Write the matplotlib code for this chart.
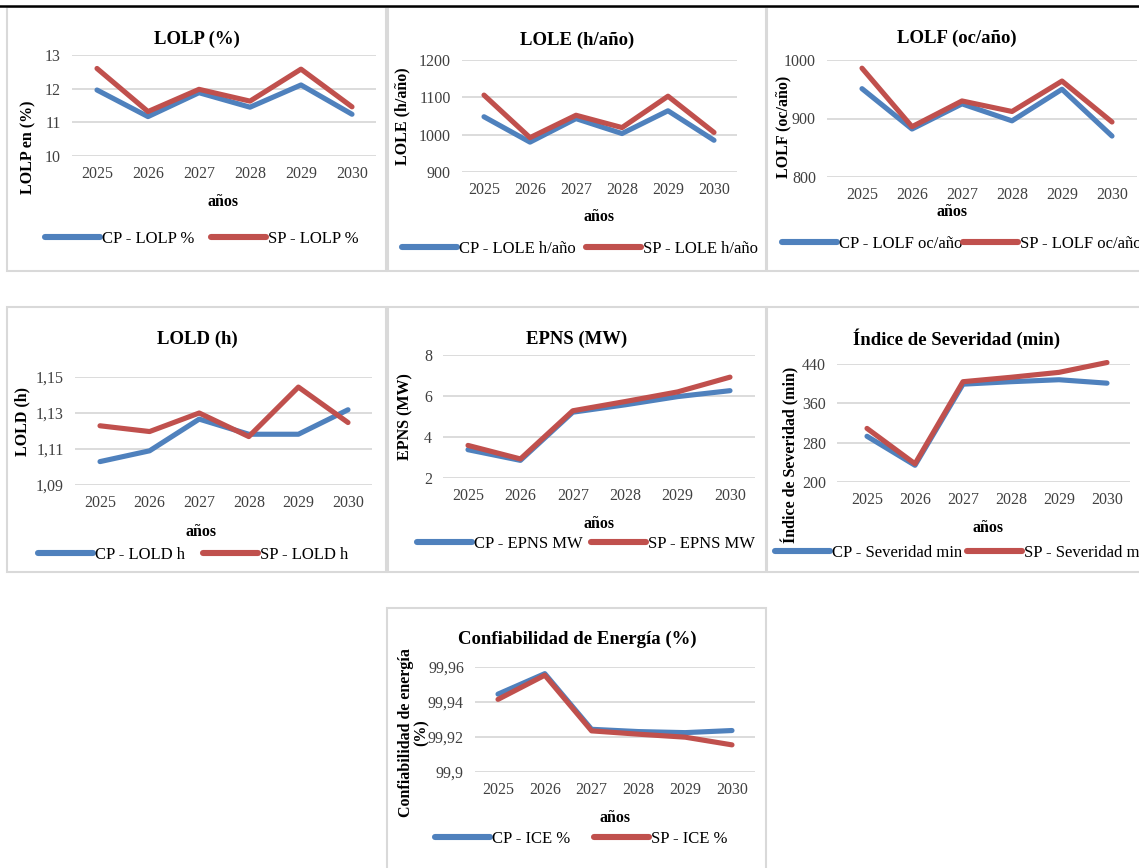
import matplotlib
matplotlib.use('Agg')

import matplotlib.pyplot as plt
from matplotlib.patches import Rectangle
from matplotlib.lines import Line2D

W, H = 1139, 868
DPI = 100

plt.rcParams['font.family'] = ['Liberation Serif', 'DejaVu Serif']

BLUE = '#4f81bd'
RED = '#c0504d'
GRID = '#d9d9d9'
TEXT = '#404040'

years = ['2025', '2026', '2027', '2028', '2029', '2030']

# series read from the study results (CP = con proyecto, SP = sin proyecto)
lolp_cp = [11.96, 11.17, 11.88, 11.45, 12.11, 11.24]
lolp_sp = [12.60, 11.32, 11.98, 11.63, 12.58, 11.46]

lole_cp = [1048, 980, 1043, 1003, 1064, 985]
lole_sp = [1106, 992, 1052, 1019, 1103, 1006]

lolf_cp = [951, 882, 925, 896, 950, 870]
lolf_sp = [986, 886, 930, 912, 964, 894]

lold_cp = [1.103, 1.109, 1.1266, 1.1182, 1.1182, 1.1318]
lold_sp = [1.1229, 1.1197, 1.1300, 1.1169, 1.1444, 1.1247]

epns_cp = [3.38, 2.86, 5.21, 5.57, 5.97, 6.26]
epns_sp = [3.59, 2.93, 5.28, 5.73, 6.20, 6.92]

sev_cp = [293, 234, 399, 404, 408, 401]
sev_sp = [309, 237, 404, 413, 423, 443]

ice_cp = [99.9445, 99.9562, 99.9244, 99.9231, 99.9225, 99.9237]
ice_sp = [99.9415, 99.9553, 99.9235, 99.9216, 99.9199, 99.9155]

lolp_ticks = [10, 11, 12, 13]
lole_ticks = [900, 1000, 1100, 1200]
lolf_ticks = [800, 900, 1000]
lold_ticks = [1.09, 1.11, 1.13, 1.15]
lold_labels = ['1,09', '1,11', '1,13', '1,15']
epns_ticks = [2, 4, 6, 8]
sev_ticks = [200, 280, 360, 440]
ice_ticks = [99.90, 99.92, 99.94, 99.96]
ice_labels = ['99,9', '99,92', '99,94', '99,96']


def fx(x):
    return x / W


def fy(y):
    return 1 - y / H


# panel layout in pixels: frame box, plot box (grid extent), first/last
# category centres, and where the titles / labels / legend sit
PANELS = [
    dict(frame=(7, 7, 386, 271), plot=(72, 55, 376, 156), cx=(97, 352),
         title='LOLP (%)', title_xy=(197, 39),
         ylabel='LOLP en (%)', ylabel_xy=(28, 147),
         xlabel_xy=(223, 202), legend_xy=(45, 239), colspace=1.0,
         cp=lolp_cp, sp=lolp_sp, ticks=lolp_ticks, labels=None,
         names=('CP - LOLP %', 'SP - LOLP %')),
    dict(frame=(388, 7, 766, 271), plot=(462, 60, 737, 172), cx=(484, 714),
         title='LOLE (h/año)', title_xy=(577, 40),
         ylabel='LOLE (h/año)', ylabel_xy=(402, 116),
         xlabel_xy=(599, 217), legend_xy=(402, 249), colspace=0.6,
         cp=lole_cp, sp=lole_sp, ticks=lole_ticks, labels=None,
         names=('CP - LOLE h/año', 'SP - LOLE h/año')),
    dict(frame=(767, 7, 1160, 271), plot=(827, 60, 1137, 177), cx=(862, 1112),
         title='LOLF (oc/año)', title_xy=(957, 38),
         ylabel='LOLF (oc/año)', ylabel_xy=(783, 127),
         xlabel_xy=(952, 212), legend_xy=(782, 244), colspace=0.05,
         cp=lolf_cp, sp=lolf_sp, ticks=lolf_ticks, labels=None,
         names=('CP - LOLF oc/año', 'SP - LOLF oc/año')),
    dict(frame=(7, 307, 386, 572), plot=(75, 377, 372, 485), cx=(100, 348),
         title='LOLD (h)', title_xy=(197, 339),
         ylabel='LOLD (h)', ylabel_xy=(22, 422),
         xlabel_xy=(201, 532), legend_xy=(38, 555), colspace=1.1,
         cp=lold_cp, sp=lold_sp, ticks=lold_ticks, labels=lold_labels,
         names=('CP - LOLD h', 'SP - LOLD h')),
    dict(frame=(388, 307, 766, 572), plot=(443, 355, 755, 478), cx=(468, 730),
         title='EPNS (MW)', title_xy=(577, 339),
         ylabel='EPNS (MW)', ylabel_xy=(405, 417),
         xlabel_xy=(599, 524), legend_xy=(417, 544), colspace=0.5,
         cp=epns_cp, sp=epns_sp, ticks=epns_ticks, labels=None,
         names=('CP - EPNS MW', 'SP - EPNS MW')),
    dict(frame=(767, 307, 1160, 572), plot=(837, 364, 1130, 482), cx=(867, 1107),
         title='Índice de Severidad (min)', title_xy=(957, 339),
         ylabel='Índice de Severidad (min)', ylabel_xy=(790, 455),
         xlabel_xy=(988, 528), legend_xy=(775, 553), colspace=0.3,
         cp=sev_cp, sp=sev_sp, ticks=sev_ticks, labels=None,
         names=('CP - Severidad min', 'SP - Severidad min')),
    dict(frame=(387, 608, 766, 900), plot=(475, 667, 755, 772), cx=(498, 732),
         title='Confiabilidad de Energía (%)', title_xy=(577, 639),
         ylabel='Confiabilidad de energía\n(%)', ylabel_xy=(414, 733),
         xlabel_xy=(615, 818), legend_xy=(435, 839), colspace=1.45,
         cp=ice_cp, sp=ice_sp, ticks=ice_ticks, labels=ice_labels,
         names=('CP - ICE %', 'SP - ICE %')),
]


def draw_panel(fig, p):
    fl, ft, fr, fb = p['frame']
    fig.patches.append(Rectangle((fx(fl), fy(fb)), fx(fr - fl), (fb - ft) / H,
                                 transform=fig.transFigure, facecolor='none',
                                 edgecolor=GRID, linewidth=1.5, zorder=-1))

    left, top, right, bottom = p['plot']
    ax = fig.add_axes([fx(left), fy(bottom), (right - left) / W, (bottom - top) / H])
    ax.set_facecolor('none')

    # map category centres onto the pixel positions of the grid box
    x0, x5 = p['cx']
    unit = (x5 - x0) / 5
    ax.set_xlim((left - x0) / unit, 5 + (right - x5) / unit)

    ticks = p['ticks']
    ax.set_ylim(ticks[0], ticks[-1])
    ax.set_yticks(ticks)
    if p['labels'] is not None:
        ax.set_yticklabels(p['labels'])
    ax.set_xticks(range(len(years)))
    ax.set_xticklabels(years)

    ax.grid(axis='y', color=GRID, linewidth=1.3)
    ax.set_axisbelow(True)
    for s in ax.spines.values():
        s.set_visible(False)
    ax.tick_params(length=0, labelsize=11.5, labelcolor=TEXT)
    ax.tick_params(axis='y', pad=8)
    ax.tick_params(axis='x', pad=7)

    xs = range(len(years))
    ax.plot(xs, p['cp'], color=BLUE, linewidth=3.7, solid_capstyle='round',
            solid_joinstyle='round', clip_on=False, zorder=3)
    ax.plot(xs, p['sp'], color=RED, linewidth=3.7, solid_capstyle='round',
            solid_joinstyle='round', clip_on=False, zorder=4)

    fig.text(fx(p['title_xy'][0]), fy(p['title_xy'][1]), p['title'],
             ha='center', va='center', fontsize=13.5, fontweight='bold')
    fig.text(fx(p['ylabel_xy'][0]), fy(p['ylabel_xy'][1]), p['ylabel'],
             ha='center', va='center', rotation=90, fontsize=11.5,
             fontweight='bold', multialignment='center', linespacing=0.95)
    fig.text(fx(p['xlabel_xy'][0]), fy(p['xlabel_xy'][1]), 'años',
             ha='center', va='center', fontsize=11.5, fontweight='bold')

    handles = [Line2D([], [], color=BLUE, linewidth=4.4, solid_capstyle='round'),
               Line2D([], [], color=RED, linewidth=4.4, solid_capstyle='round')]
    lx, ly = p['legend_xy']
    ax.legend(handles, p['names'], loc='center left', ncol=2,
              bbox_to_anchor=(fx(lx), fy(ly)), bbox_transform=fig.transFigure,
              frameon=False, fontsize=12, handlelength=3.3, handletextpad=0.12,
              columnspacing=p['colspace'], borderpad=0, borderaxespad=0,
              labelcolor='black')


fig = plt.figure(figsize=(W / DPI, H / DPI), dpi=DPI)
fig.patch.set_facecolor('white')

# heavy rule across the top of the page
fig.add_artist(Line2D([0, 1], [fy(6), fy(6)], transform=fig.transFigure,
                      color='black', linewidth=1.8))

for panel in PANELS:
    draw_panel(fig, panel)

fig.savefig('out.png', dpi=DPI, facecolor='white')
